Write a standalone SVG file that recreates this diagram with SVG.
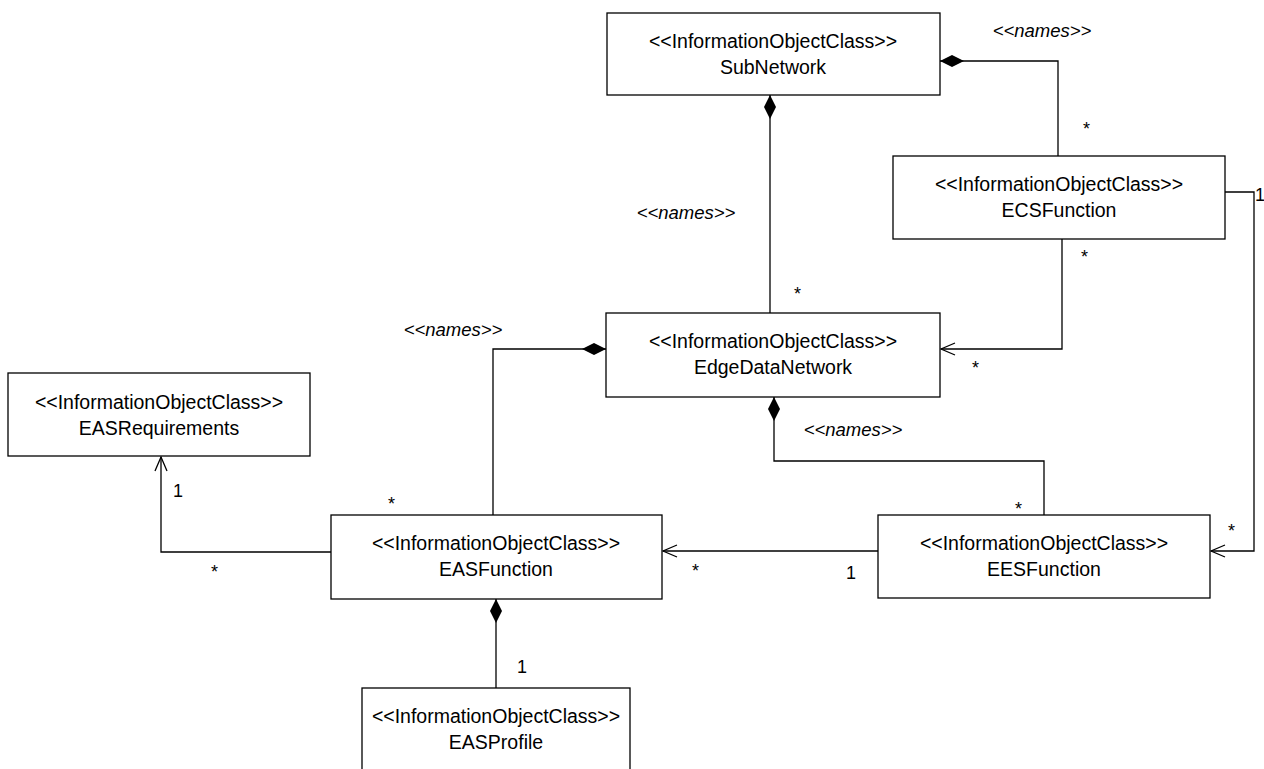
<svg xmlns="http://www.w3.org/2000/svg" width="1264" height="769" viewBox="0 0 1264 769">
<style>
  .box{fill:#fff;stroke:#000;stroke-width:1.3}
  .t{font-family:"Liberation Sans",Arial,sans-serif;font-size:19.5px;fill:#000;text-anchor:middle}
  .c{fill:none;stroke:#000;stroke-width:1.3}
  .lbl{font-family:"Liberation Sans",Arial,sans-serif;font-size:18px;fill:#000}
  .nm{font-family:"Liberation Sans",Arial,sans-serif;font-size:18.5px;font-style:italic;fill:#000;text-anchor:middle}
</style>
<defs>
  <marker id="dia" markerUnits="userSpaceOnUse" markerWidth="24" markerHeight="12" viewBox="0 0 24 12" refX="0" refY="6" orient="auto">
    <path d="M0,6 L12,0 L24,6 L12,12 Z" fill="#000"/>
  </marker>
  <marker id="arr" markerUnits="userSpaceOnUse" markerWidth="16" markerHeight="14" viewBox="0 0 16 14" refX="15" refY="7" orient="auto">
    <path d="M1,1 L15,7 L1,13" fill="none" stroke="#000" stroke-width="1.3"/>
  </marker>
</defs>
<rect width="1264" height="769" fill="#fff"/>
<g id="connectors">
  <path class="c" d="M770,95 V313" marker-start="url(#dia)"/>
  <path class="c" d="M940,61 H1058 V156" marker-start="url(#dia)"/>
  <path class="c" d="M1062,239 V349 H941" marker-end="url(#arr)"/>
  <path class="c" d="M1225,192 H1254 V551 H1211" marker-end="url(#arr)"/>
  <path class="c" d="M774,397 V461 H1044 V515" marker-start="url(#dia)"/>
  <path class="c" d="M606,349 H493 V515" marker-start="url(#dia)"/>
  <path class="c" d="M878,551 H663" marker-end="url(#arr)"/>
  <path class="c" d="M331,552 H161 V457" marker-end="url(#arr)"/>
  <path class="c" d="M496,599 V688" marker-start="url(#dia)"/>
  <text class="nm" x="1042" y="37">&lt;&lt;names&gt;&gt;</text>
  <text class="nm" x="686" y="219">&lt;&lt;names&gt;&gt;</text>
  <text class="nm" x="453" y="336">&lt;&lt;names&gt;&gt;</text>
  <text class="nm" x="853" y="436">&lt;&lt;names&gt;&gt;</text>
  <text class="lbl" x="1083" y="135">*</text>
  <text class="lbl" x="794" y="300">*</text>
  <text class="lbl" x="1081" y="263">*</text>
  <text class="lbl" x="972" y="374">*</text>
  <text class="lbl" x="1228" y="537">*</text>
  <text class="lbl" x="1015" y="515">*</text>
  <text class="lbl" x="388" y="510">*</text>
  <text class="lbl" x="692" y="577">*</text>
  <text class="lbl" x="211" y="578">*</text>
  <text class="lbl" x="846" y="579">1</text>
  <text class="lbl" x="173" y="497">1</text>
  <text class="lbl" x="517" y="673">1</text>
  <text class="lbl" x="1255" y="201">1</text>
</g>
<g id="SubNetwork">
  <rect class="box" x="607" y="13" width="333" height="82"/>
  <text class="t" x="773" y="48">&lt;&lt;InformationObjectClass&gt;&gt;</text>
  <text class="t" x="773" y="74">SubNetwork</text>
</g>
<g id="ECSFunction">
  <rect class="box" x="893" y="156" width="332" height="83"/>
  <text class="t" x="1059" y="191">&lt;&lt;InformationObjectClass&gt;&gt;</text>
  <text class="t" x="1059" y="217">ECSFunction</text>
</g>
<g id="EdgeDataNetwork">
  <rect class="box" x="606" y="313" width="334" height="84"/>
  <text class="t" x="773" y="348">&lt;&lt;InformationObjectClass&gt;&gt;</text>
  <text class="t" x="773" y="374">EdgeDataNetwork</text>
</g>
<g id="EASRequirements">
  <rect class="box" x="8" y="373" width="302" height="83"/>
  <text class="t" x="159" y="409">&lt;&lt;InformationObjectClass&gt;&gt;</text>
  <text class="t" x="159" y="435">EASRequirements</text>
</g>
<g id="EASFunction">
  <rect class="box" x="331" y="515" width="331" height="84"/>
  <text class="t" x="496" y="550">&lt;&lt;InformationObjectClass&gt;&gt;</text>
  <text class="t" x="496" y="576">EASFunction</text>
</g>
<g id="EESFunction">
  <rect class="box" x="878" y="515" width="332" height="83"/>
  <text class="t" x="1044" y="550">&lt;&lt;InformationObjectClass&gt;&gt;</text>
  <text class="t" x="1044" y="576">EESFunction</text>
</g>
<g id="EASProfile">
  <rect class="box" x="362" y="688" width="268" height="95"/>
  <text class="t" x="496" y="723">&lt;&lt;InformationObjectClass&gt;&gt;</text>
  <text class="t" x="496" y="749">EASProfile</text>
</g>
</svg>
